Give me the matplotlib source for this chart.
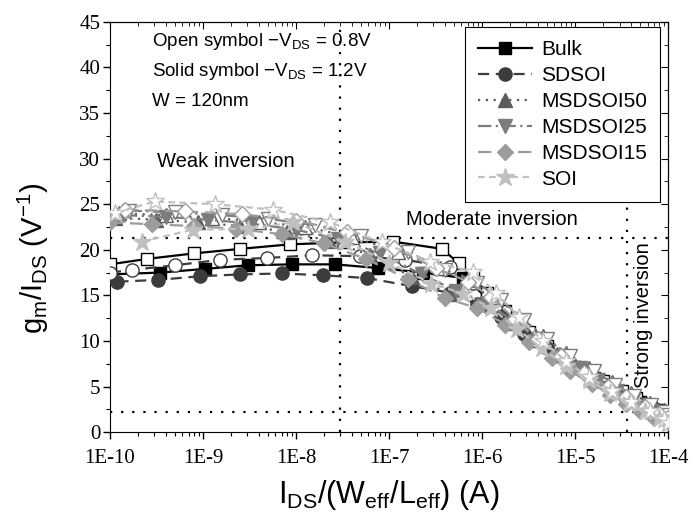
import matplotlib
matplotlib.use('Agg')

import matplotlib.pyplot as plt
import numpy as np
from matplotlib.ticker import MultipleLocator, LogLocator, NullFormatter

plt.rcParams['font.family'] = ['Liberation Sans', 'DejaVu Sans']
plt.rcParams['mathtext.fontset'] = 'custom'
plt.rcParams['mathtext.rm'] = 'Liberation Sans'
plt.rcParams['mathtext.it'] = 'Liberation Sans'

# exponents of IDS/(Weff/Leff) and gm/IDS values (open = -VDS 0.8 V, solid = -VDS 1.2 V)
bulk_open_x = [-10.0, -9.6, -9.1, -8.6, -8.06, -7.5, -6.96, -6.43, -6.25, -6.1, -5.95, -5.75, -5.5, -5.3, -5.1, -4.9, -4.7, -4.5, -4.35, -4.2, -4.1, -4.0]
bulk_open_y = [18.4, 19.0, 19.6, 20.1, 20.6, 20.8, 20.9, 20.1, 18.5, 17.0, 15.3, 13.3, 11.0, 9.5, 8.0, 6.8, 5.6, 4.5, 3.7, 2.9, 2.4, 1.9]
bulk_solid_x = [-10.0, -9.46, -8.98, -8.52, -8.04, -7.58, -7.12, -6.63, -6.2, -5.95, -5.7, -5.45, -5.2, -5.0, -4.8, -4.6, -4.45, -4.3, -4.18, -4.08, -4.0]
bulk_solid_y = [17.3, 17.5, 17.9, 18.3, 18.4, 18.4, 18.0, 17.5, 16.9, 14.8, 12.3, 10.0, 8.4, 7.1, 5.9, 4.8, 4.0, 3.3, 2.7, 2.3, 2.0]

sdsoi_open_x = [-10.0, -9.76, -9.30, -8.82, -8.31, -7.83, -7.31, -6.83, -6.34, -6.1, -5.85, -5.6, -5.35, -5.1, -4.85, -4.62, -4.42, -4.26, -4.12, -4.0]
sdsoi_open_y = [17.5, 17.8, 18.3, 18.9, 19.1, 19.4, 19.3, 18.9, 18.1, 16.4, 13.9, 11.8, 9.9, 8.1, 6.4, 5.1, 4.0, 3.1, 2.4, 1.8]
sdsoi_solid_x = [-9.92, -9.48, -9.03, -8.6, -8.15, -7.71, -7.24, -6.75, -6.35, -6.05, -5.8, -5.55, -5.3, -5.05, -4.8, -4.6, -4.4, -4.25, -4.12, -4.0]
sdsoi_solid_y = [16.5, 16.7, 17.1, 17.3, 17.4, 17.2, 16.9, 16.0, 15.3, 14.0, 12.6, 10.8, 9.2, 7.6, 6.0, 4.9, 3.9, 3.1, 2.4, 1.8]

ms50_open_x = [-9.9, -9.4, -8.9, -8.4, -7.9, -7.4, -6.9, -6.45, -6.1, -5.85, -5.6, -5.35, -5.1, -4.85, -4.6, -4.4, -4.2, -4.05, -4.0]
ms50_open_y = [24.0, 23.8, 23.5, 23.1, 22.5, 21.4, 19.8, 18.0, 16.7, 14.8, 12.6, 10.5, 8.7, 7.0, 5.5, 4.3, 3.2, 2.4, 2.0]
ms50_solid_x = [-9.95, -9.5, -9.05, -8.6, -8.1, -7.65, -7.2, -6.75, -6.35, -6.0, -5.7, -5.45, -5.2, -5.0, -4.8, -4.6, -4.42, -4.27, -4.13, -4.0]
ms50_solid_y = [23.5, 23.3, 23.0, 22.6, 22.0, 21.0, 19.4, 17.0, 15.2, 14.0, 12.0, 10.3, 8.6, 7.2, 5.9, 4.7, 3.7, 2.9, 2.2, 1.6]

ms25_open_x = [-9.8, -9.3, -8.8, -8.3, -7.8, -7.3, -6.8, -6.4, -6.05, -5.8, -5.55, -5.3, -5.05, -4.8, -4.57, -4.37, -4.18, -4.05, -4.0]
ms25_open_y = [24.3, 24.1, 23.8, 23.4, 22.7, 21.5, 19.8, 17.8, 16.4, 14.5, 12.3, 10.2, 8.4, 6.7, 5.2, 4.0, 3.0, 2.2, 1.9]
ms25_solid_x = [-9.85, -9.4, -8.95, -8.5, -8.0, -7.55, -7.1, -6.65, -6.28, -5.95, -5.65, -5.4, -5.15, -4.95, -4.75, -4.55, -4.38, -4.23, -4.1, -4.0]
ms25_solid_y = [23.8, 23.6, 23.3, 22.9, 22.2, 21.2, 19.6, 17.3, 15.5, 14.2, 12.1, 10.2, 8.4, 7.0, 5.7, 4.5, 3.5, 2.7, 2.0, 1.4]

ms15_open_x = [-9.84, -9.19, -8.58, -8.0, -7.45, -6.95, -6.5, -6.15, -5.9, -5.65, -5.4, -5.15, -4.9, -4.65, -4.45, -4.25, -4.1, -4.0]
ms15_open_y = [24.4, 24.2, 23.9, 23.2, 22.0, 20.2, 18.0, 16.5, 14.8, 12.4, 10.2, 8.3, 6.5, 5.0, 3.8, 2.8, 2.0, 1.5]
ms15_solid_x = [-10.0, -9.55, -9.1, -8.65, -8.15, -7.7, -7.25, -6.8, -6.4, -6.05, -5.75, -5.5, -5.25, -5.05, -4.82, -4.62, -4.45, -4.3, -4.15, -4.0]
ms15_solid_y = [23.0, 22.8, 22.6, 22.3, 21.7, 20.7, 19.0, 16.8, 14.7, 13.6, 11.8, 9.9, 8.1, 6.7, 5.3, 4.1, 3.1, 2.3, 1.6, 1.1]

soi_open_x = [-9.95, -9.52, -8.87, -8.25, -7.63, -7.08, -6.56, -6.1, -5.85, -5.6, -5.35, -5.1, -4.85, -4.6, -4.4, -4.2, -4.05, -4.0]
soi_open_y = [24.0, 25.3, 25.0, 24.4, 23.0, 20.8, 18.7, 17.6, 15.3, 12.6, 10.0, 7.8, 6.0, 4.5, 3.3, 2.3, 1.4, 1.0]
soi_solid_x = [-9.66, -9.11, -8.52, -8.03, -7.47, -7.0, -6.55, -6.2, -5.9, -5.62, -5.36, -5.1, -4.85, -4.62, -4.42, -4.25, -4.1, -4.0]
soi_solid_y = [20.9, 22.2, 22.3, 23.0, 20.9, 18.6, 16.3, 15.2, 13.6, 11.3, 9.2, 7.3, 5.7, 4.3, 3.2, 2.3, 1.5, 1.0]

names = ['Bulk', 'SDSOI', 'MSDSOI50', 'MSDSOI25', 'MSDSOI15', 'SOI']
colors = ['#000000', '#3c3c3c', '#5c5c5c', '#7c7c7c', '#9c9c9c', '#c0c0c0']
markers = ['s', 'o', '^', 'v', 'D', '*']
msizes = [8.5, 9.5, 9.5, 9.5, 8, 13.5]
styles = ['-', (0, (5, 3)), (0, (1, 2.5)), (0, (6, 2, 1, 2)), (0, (6, 3)), (0, (3, 2))]
open_sets = [(bulk_open_x, bulk_open_y), (sdsoi_open_x, sdsoi_open_y), (ms50_open_x, ms50_open_y),
             (ms25_open_x, ms25_open_y), (ms15_open_x, ms15_open_y), (soi_open_x, soi_open_y)]
solid_sets = [(bulk_solid_x, bulk_solid_y), (sdsoi_solid_x, sdsoi_solid_y), (ms50_solid_x, ms50_solid_y),
              (ms25_solid_x, ms25_solid_y), (ms15_solid_x, ms15_solid_y), (soi_solid_x, soi_solid_y)]

fig = plt.figure(figsize=(6.96, 5.2), dpi=100)
ax = fig.add_axes([0.158, 0.169, 0.802, 0.789])

# guide lines
dot = dict(color='black', lw=1.6, ls=(0, (1, 4)), zorder=1)
ax.axvline(3e-8, **dot)
ax.axvline(3.6e-5, **dot)
ax.axhline(21.3, **dot)
ax.axhline(2.2, **dot)

for i in range(5, -1, -1):
    xo, yo = open_sets[i]
    xs, ys = solid_sets[i]
    ax.plot(10 ** np.array(xs), ys, ls=styles[i], color=colors[i], lw=1.6,
            marker=markers[i], ms=msizes[i], mfc=colors[i], mec=colors[i],
            label=names[i], zorder=3 + i * 0.1)
    ax.plot(10 ** np.array(xo), yo, ls=styles[i], color=colors[i], lw=1.6,
            marker=markers[i], ms=msizes[i], mfc='white', mec=colors[i], mew=1.0,
            zorder=3 + i * 0.1)

ax.set_xscale('log')
ax.set_xlim(1e-10, 1e-4)
ax.set_ylim(0, 45)

xt = [1e-10, 1e-9, 1e-8, 1e-7, 1e-6, 1e-5, 1e-4]
xt_labels = ['1E-10', '1E-9', '1E-8', '1E-7', '1E-6', '1E-5', '1E-4']
ax.set_xticks(xt)
ax.set_xticklabels(xt_labels, family='Liberation Serif', fontsize=15)
ax.xaxis.set_minor_locator(LogLocator(base=10, subs=np.arange(2, 10)))
ax.xaxis.set_minor_formatter(NullFormatter())
ax.yaxis.set_major_locator(MultipleLocator(5))
ax.yaxis.set_minor_locator(MultipleLocator(2.5))
for lab in ax.get_yticklabels():
    lab.set_family('Liberation Serif')
    lab.set_fontsize(15)
ax.tick_params(which='major', direction='out', length=5, width=1, top=False, right=False)
ax.tick_params(which='minor', direction='out', length=3, width=0.8, top=False, right=False)
ax.tick_params(axis='x', which='major', pad=7)
ax.tick_params(axis='y', which='major', pad=2)

top = ax.secondary_xaxis('top')
top.set_xticks(xt)
top.xaxis.set_minor_locator(LogLocator(base=10, subs=np.arange(2, 10)))
top.tick_params(which='major', direction='in', length=5, labeltop=False)
top.tick_params(which='minor', direction='in', length=3, labeltop=False)
rgt = ax.secondary_yaxis('right')
rgt.yaxis.set_major_locator(MultipleLocator(5))
rgt.yaxis.set_minor_locator(MultipleLocator(2.5))
rgt.tick_params(which='major', direction='in', length=5, labelright=False)
rgt.tick_params(which='minor', direction='in', length=3, labelright=False)

ax.set_xlabel(r'I$_\mathrm{DS}$/(W$_\mathrm{eff}$/L$_\mathrm{eff}$) (A)', fontsize=22, va='center')
ax.xaxis.set_label_coords(0.5, -0.154)
ax.set_ylabel(r'g$_\mathrm{m}$/I$_\mathrm{DS}$ (V$^{-1}$)', fontsize=21, va='center')
ax.yaxis.set_label_coords(-0.138, 0.424)

tk = dict(transform=ax.transAxes, fontsize=13.5, va='center')
ax.text(0.075, 0.951, r'Open symbol $-$V$_\mathrm{DS}$ = 0.8V', **tk)
ax.text(0.075, 0.878, r'Solid symbol $-$V$_\mathrm{DS}$ = 1.2V', **tk)
ax.text(0.075, 0.807, 'W = 120nm', **tk)
ax.text(0.085, 0.66, 'Weak inversion', transform=ax.transAxes, fontsize=14.5, va='center')
ax.text(0.53, 0.518, 'Moderate inversion', transform=ax.transAxes, fontsize=14.5, va='center')
ax.text(0.955, 0.285, 'Strong inversion', rotation=90, ha='center', transform=ax.transAxes,
        fontsize=14.5, va='center', zorder=12)

h, l = ax.get_legend_handles_labels()
order = [l.index(n) for n in names]
leg = ax.legend([h[k] for k in order], [l[k] for k in order], loc='upper right',
                bbox_to_anchor=(0.986, 0.988), borderaxespad=0, fontsize=15,
                fancybox=False, framealpha=1, edgecolor='black', handlelength=2.6,
                labelspacing=0.33, borderpad=0.65, handletextpad=0.4)
leg.get_frame().set_linewidth(0.8)
leg.set_zorder(10)

fig.savefig('out.png', dpi=100)
